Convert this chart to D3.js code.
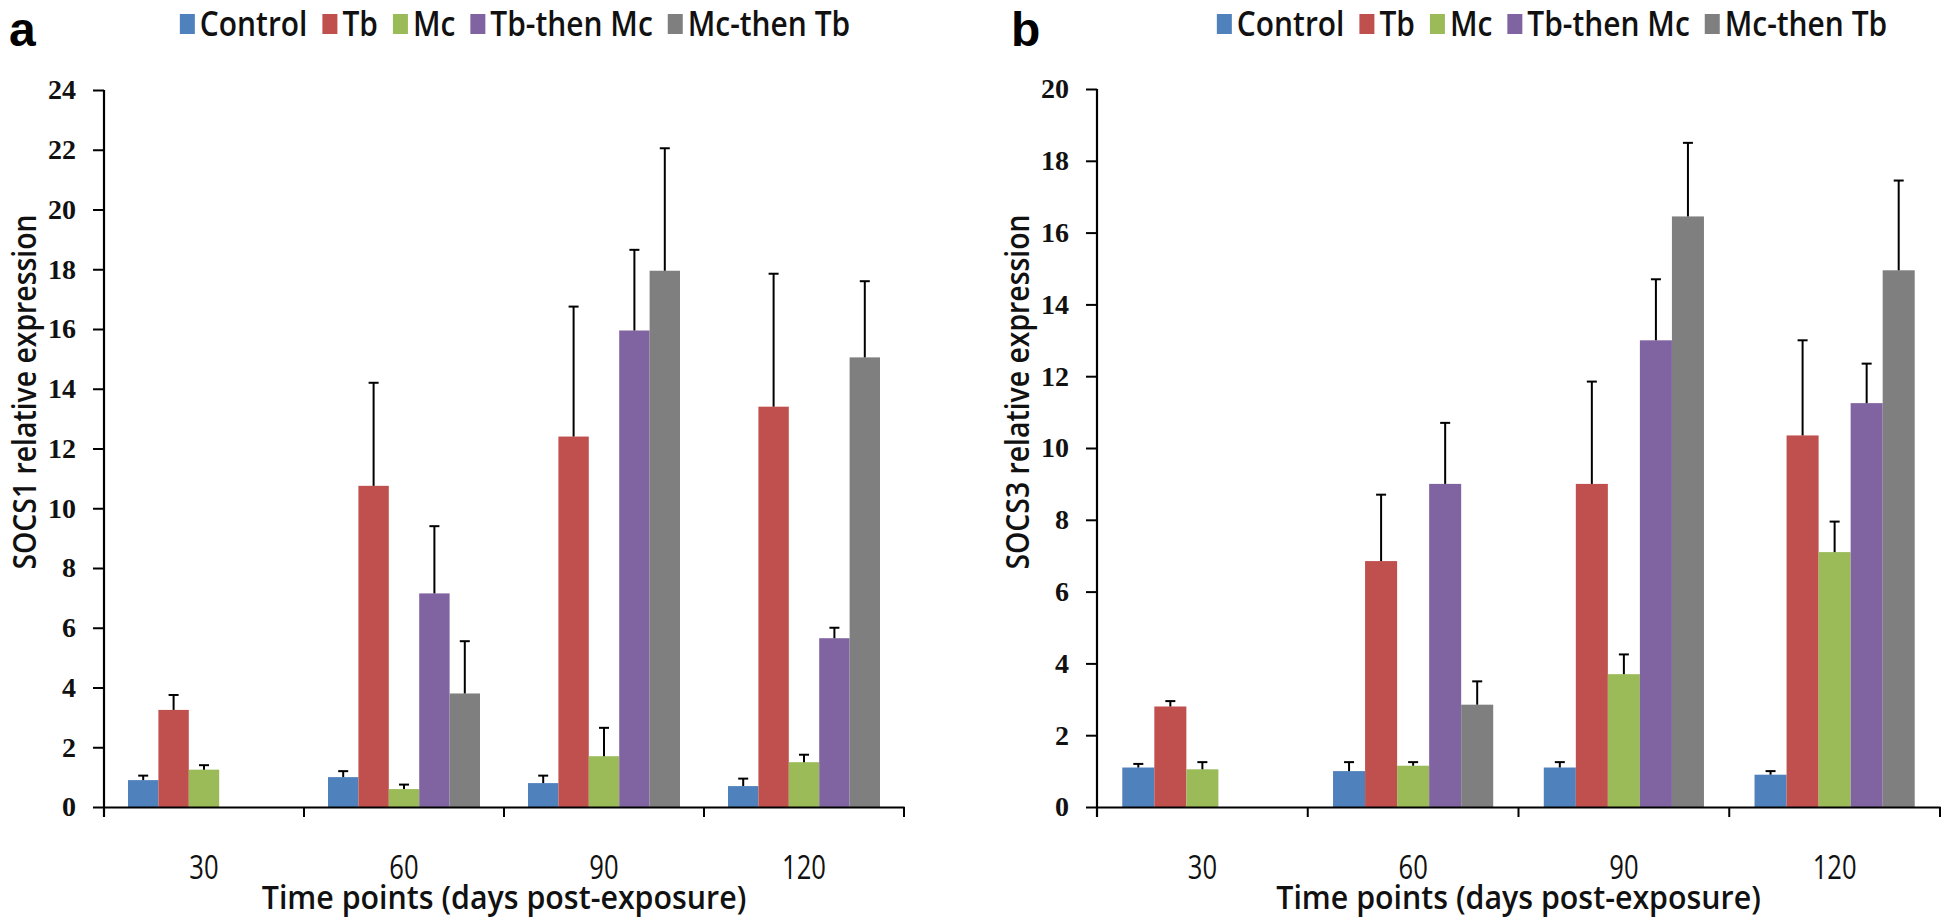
<!DOCTYPE html>
<html>
<head>
<meta charset="utf-8">
<script src="https://cdn.jsdelivr.net/npm/d3@7"></script>
<style>
  body { margin: 0; background: #fff; }
  svg { display: block; }
</style>
</head>
<body>
<svg id="chart" width="1946" height="919"></svg>
<script>
// data (mean, and upper error bar length)
const categories = ["30", "60", "90", "120"];
const seriesNames = ["Control", "Tb", "Mc", "Tb-then Mc", "Mc-then Tb"];
const colors = ["#4F81BD", "#C0504D", "#9BBB59", "#8064A2", "#7F7F7F"];

// panel a - SOCS1
const socs1Control = [0.9, 1.0, 0.8, 0.7];
const socs1Tb = [3.25, 10.75, 12.4, 13.4];
const socs1Mc = [1.25, 0.6, 1.7, 1.5];
const socs1TbMc = [null, 7.15, 15.95, 5.65];
const socs1McTb = [null, 3.8, 17.95, 15.05];
const socs1ControlErr = [0.15, 0.2, 0.25, 0.25];
const socs1TbErr = [0.5, 3.45, 4.35, 4.45];
const socs1McErr = [0.15, 0.15, 0.95, 0.25];
const socs1TbMcErr = [null, 2.25, 2.7, 0.35];
const socs1McTbErr = [null, 1.75, 4.1, 2.55];
const socs1Ticks = [0, 2, 4, 6, 8, 10, 12, 14, 16, 18, 20, 22, 24];

// panel b - SOCS3
const socs3Control = [1.1, 1.0, 1.1, 0.9];
const socs3Tb = [2.8, 6.85, 9.0, 10.35];
const socs3Mc = [1.05, 1.15, 3.7, 7.1];
const socs3TbMc = [null, 9.0, 13.0, 11.25];
const socs3McTb = [null, 2.85, 16.45, 14.95];
const socs3ControlErr = [0.1, 0.25, 0.15, 0.1];
const socs3TbErr = [0.15, 1.85, 2.85, 2.65];
const socs3McErr = [0.2, 0.1, 0.55, 0.85];
const socs3TbMcErr = [null, 1.7, 1.7, 1.1];
const socs3McTbErr = [null, 0.65, 2.05, 2.5];
const socs3Ticks = [0, 2, 4, 6, 8, 10, 12, 14, 16, 18, 20];

const SANS = "'Open Sans', 'Liberation Sans', sans-serif";
const svg = d3.select("#chart");

// condensed-looking text: horizontal squeeze of Open Sans (no Calibri here)
function narrowText(parent, x, y, str, size, sx, anchor, rotate, weight) {
  const g = parent.append("g")
    .attr("transform", `translate(${x},${y})${rotate ? " rotate(-90)" : ""} scale(${sx},1)`);
  const t = g.append("text").attr("text-anchor", anchor || "start")
    .attr("font-family", SANS).attr("font-size", size).attr("font-weight", weight || 600)
    .attr("fill", "#111").text(str);
  return t.node().getComputedTextLength() * sx;
}

function drawPanel(opts) {
  const { left, right, top, bottom, means, errs, ticks, yLabel, letter, letterX, legendCx } = opts;
  const g = svg.append("g");

  const x = d3.scaleBand().domain(categories).range([left, right]).padding(0);
  const xInner = d3.scaleBand().domain(seriesNames)
    .range([x.bandwidth() * 0.12, x.bandwidth() * 0.88]).padding(0);
  const y = d3.scaleLinear().domain([0, d3.max(ticks)]).range([bottom, top]);

  // bars
  seriesNames.forEach((s, si) => {
    const rows = categories.map((c, ci) => ({ c, v: means[si][ci], e: errs[si][ci] }))
      .filter(d => d.v != null);
    g.append("g").selectAll("rect").data(rows).enter().append("rect")
      .attr("x", d => x(d.c) + xInner(s))
      .attr("y", d => y(d.v))
      .attr("width", xInner.bandwidth())
      .attr("height", d => y(0) - y(d.v))
      .attr("fill", colors[si]);
    // error bars (upper only)
    const eg = g.append("g").attr("stroke", "#000").attr("stroke-width", 2);
    rows.forEach(d => {
      const cx = x(d.c) + xInner(s) + xInner.bandwidth() / 2;
      eg.append("line").attr("x1", cx).attr("x2", cx).attr("y1", y(d.v)).attr("y2", y(d.v + d.e));
      eg.append("line").attr("x1", cx - 5).attr("x2", cx + 5).attr("y1", y(d.v + d.e)).attr("y2", y(d.v + d.e));
    });
  });

  // y axis
  const yAxis = g.append("g").attr("transform", `translate(${left},0)`)
    .call(d3.axisLeft(y).tickValues(ticks).tickSize(11).tickPadding(17).tickSizeOuter(0));
  yAxis.select(".domain").attr("stroke", "#000").attr("stroke-width", 2.2)
    .attr("d", `M0,${top}V${bottom + 10}`);
  yAxis.selectAll(".tick line").attr("stroke", "#000").attr("stroke-width", 2);
  yAxis.selectAll(".tick text")
    .attr("font-family", "'Liberation Serif', 'DejaVu Serif', serif")
    .attr("font-size", 28).attr("font-weight", "bold").attr("fill", "#111");

  // x axis: ticks at category boundaries, labels at centres
  const xAxis = g.append("g").attr("transform", `translate(0,${bottom})`)
    .call(d3.axisBottom(x).tickSize(0).tickSizeOuter(0));
  xAxis.select(".domain").attr("stroke", "#000").attr("stroke-width", 2.2);
  xAxis.selectAll(".tick text").remove();
  xAxis.selectAll(".tick").each(function (c) {
    narrowText(d3.select(this), 0, 72, c, 32, 0.8, "middle", false, 400);
  });
  const bounds = categories.map(c => x(c)).concat([x(categories[categories.length - 1]) + x.bandwidth()]);
  xAxis.selectAll(".bound").data(bounds).enter().append("line")
    .attr("x1", d => d).attr("x2", d => d).attr("y1", 0).attr("y2", 10)
    .attr("stroke", "#000").attr("stroke-width", 2);

  // axis titles
  narrowText(g, (left + right) / 2, bottom + 102, "Time points  (days post-exposure)", 33, 0.92, "middle");
  narrowText(g, left - 68, 392, yLabel, 33, 0.86, "middle", true);

  // panel letter
  g.append("text").attr("x", letterX).attr("y", 46)
    .attr("font-family", "'Liberation Sans', Arial, sans-serif").attr("font-weight", "bold")
    .attr("font-size", 48).attr("fill", "#000").text(letter);

  // legend
  const lg = g.append("g");
  let cursor = 0;
  seriesNames.forEach((s, si) => {
    lg.append("rect").attr("x", cursor).attr("y", -9).attr("width", 15).attr("height", 20).attr("fill", colors[si]);
    const w = narrowText(lg, cursor + 20, 13, s, 34, 0.88, "start");
    cursor += 20 + w + 15;
  });
  const lw = cursor - 15;
  lg.attr("transform", `translate(${legendCx - lw / 2},23)`);
}

drawPanel({
  left: 104, right: 904, top: 90, bottom: 807,
  means: [socs1Control, socs1Tb, socs1Mc, socs1TbMc, socs1McTb],
  errs: [socs1ControlErr, socs1TbErr, socs1McErr, socs1TbMcErr, socs1McTbErr],
  ticks: socs1Ticks, yLabel: "SOCS1 relative expression", letter: "a", letterX: 9, legendCx: 515
});
drawPanel({
  left: 1097, right: 1940, top: 89, bottom: 807,
  means: [socs3Control, socs3Tb, socs3Mc, socs3TbMc, socs3McTb],
  errs: [socs3ControlErr, socs3TbErr, socs3McErr, socs3TbMcErr, socs3McTbErr],
  ticks: socs3Ticks, yLabel: "SOCS3 relative expression", letter: "b", letterX: 1011, legendCx: 1552
});
</script>
</body>
</html>
